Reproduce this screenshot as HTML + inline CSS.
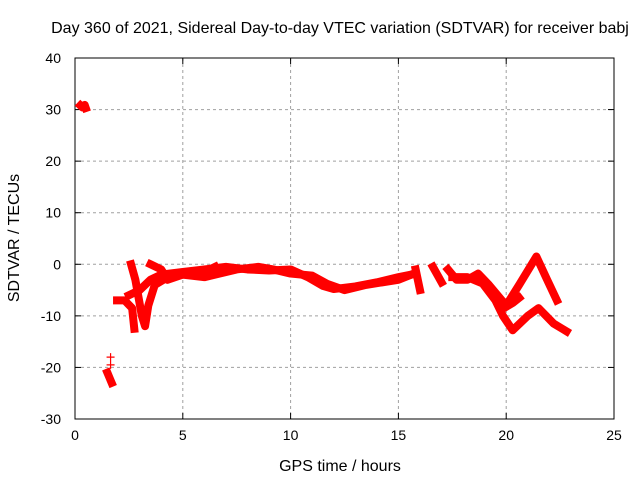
<!DOCTYPE html>
<html><head><meta charset="utf-8"><style>
body{margin:0;background:#fff}
svg text{font-family:"Liberation Sans",sans-serif;font-size:14px;fill:#000}
svg text.big{font-size:16px}
</style></head><body>
<svg id="chart" width="640" height="480" viewBox="0 0 640 480" xmlns="http://www.w3.org/2000/svg">
<rect width="640" height="480" fill="#fff"/>
<text class="big" x="340" y="33" text-anchor="middle">Day 360 of 2021, Sidereal Day-to-day VTEC variation (SDTVAR) for receiver babj</text>
<g id="grid"></g>
<g id="axes"></g>
<g id="series"></g>
<text class="big" x="340" y="471" text-anchor="middle">GPS time / hours</text>
<text class="big" transform="translate(19,238) rotate(-90)" text-anchor="middle">SDTVAR / TECUs</text>
</svg>
<script>
const xTicks=[0,5,10,15,20,25];
const yTicks=[-30,-20,-10,0,10,20,30,40];
const trackA=[[0.25,30.8],[0.35,30.4],[0.45,30.9],[0.5,30.3]];
const trackB=[[1.5,-21],[1.6,-22],[1.7,-23]];
const trackBExtra=[[1.65,-18],[1.65,-19.5]];
const trackC=[[1.95,-7],[2.3,-7],[2.65,-8.5],[2.75,-12.5]];
const trackD=[[2.6,0],[2.8,-3],[3.1,-10],[3.25,-12],[3.4,-8],[3.7,-4],[4.3,-2.5],[5,-2],[6,-1.5],[6.5,-0.5]];
const trackE=[[2.5,-6],[3,-5],[3.5,-3],[4,-2],[5,-1.5],[6,-1],[7,-0.5],[8,-1],[9,-1.2],[10,-1],[10.8,-2.5],[11.5,-4.2],[12,-4.8],[13,-4.3],[14,-3.5],[15,-2.5],[15.6,-2]];
const trackF=[[3.5,0],[4,-1],[4.3,-3],[5,-2],[6,-2.5],[6.5,-2],[7.5,-1],[8.5,-0.5],[9.2,-1],[10,-1.8],[11,-2.2],[11.7,-3.8],[12.5,-5],[13.5,-4],[15,-3],[15.6,-2]];
const trackG=[[15.8,-1],[15.9,-3],[16,-5]];
const trackH=[[16.6,-0.5],[16.8,-2],[17,-3.5]];
const trackI=[[17.3,-1],[17.7,-3],[18.2,-3],[18.7,-1.8],[19.2,-4],[20.0,-8],[20.6,-4],[21.4,1.5],[21.9,-3],[22.35,-7]];
const trackJ=[[17.5,-2.5],[18.2,-2.5],[18.9,-3.7],[19.5,-7],[19.85,-10],[20.3,-12.8],[21,-10],[21.5,-8.5],[22.2,-11.5],[22.6,-12.5],[22.8,-13]];
const trackK=[[19.3,-5],[19.9,-8.5],[20.3,-7.5],[20.6,-6.5]];
const tracks=[trackA,trackB,trackC,trackD,trackE,trackF,trackG,trackH,trackI,trackJ,trackK];

const L=75,R=614,T=58,B=419;
const xs=h=>L+(h-0)/(25-0)*(R-L);
const ys=v=>B-(v+30)/(70)*(B-T);
const NS="http://www.w3.org/2000/svg";
function mk(tag,attrs,parent){const e=document.createElementNS(NS,tag);for(const k in attrs)e.setAttribute(k,attrs[k]);parent.appendChild(e);return e;}
const grid=document.getElementById('grid'),axes=document.getElementById('axes'),ser=document.getElementById('series');
xTicks.forEach(t=>{const x=xs(t);
 if(t>0&&t<25){const g=mk('line',{x1:x,x2:x,y1:T,y2:B,stroke:'#a0a0a0','stroke-dasharray':'3,3'},grid);}
 mk('line',{x1:x,x2:x,y1:B,y2:B-6,stroke:'#000'},axes);mk('line',{x1:x,x2:x,y1:T,y2:T+6,stroke:'#000'},axes);
 const tx=mk('text',{x:x,y:B+21,'text-anchor':'middle'},axes);tx.textContent=t;
 });
yTicks.forEach(t=>{const y=ys(t);
 if(t>-30&&t<40){const g=mk('line',{x1:L,x2:R,y1:y,y2:y,stroke:'#a0a0a0','stroke-dasharray':'3,3'},grid);}
 mk('line',{x1:L,x2:L+6,y1:y,y2:y,stroke:'#000'},axes);mk('line',{x1:R,x2:R-6,y1:y,y2:y,stroke:'#000'},axes);
 const tx=mk('text',{x:L-14,y:y+5,'text-anchor':'end'},axes);tx.textContent=t;
 });
const fr=mk('rect',{x:L,y:T,width:R-L,height:B-T,fill:'none',stroke:'#000'},axes);

tracks.forEach(tr=>{
 const p=mk('polyline',{points:tr.map(d=>xs(d[0])+','+ys(d[1])).join(' '),fill:'none',stroke:'#f00','stroke-width':8,'stroke-linejoin':'round','stroke-linecap':'square'},ser);
 
});
trackBExtra.forEach(d=>{const x=xs(d[0]),y=ys(d[1]);
 const p=mk('path',{d:`M${x-4},${y}H${x+4}M${x},${y-4}V${y+4}`,stroke:'#f00','stroke-width':1.2},ser);
 });
</script>
</body></html>
